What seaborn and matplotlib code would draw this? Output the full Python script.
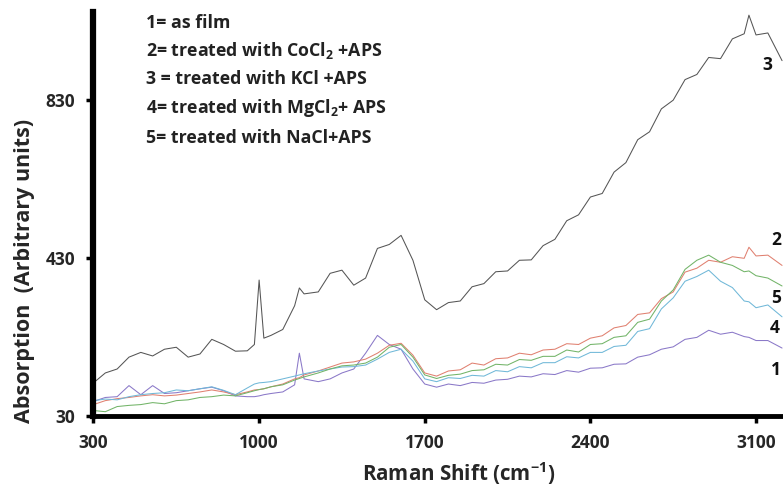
import matplotlib
matplotlib.use("Agg")
import matplotlib.pyplot as plt
import seaborn as sns
import pandas as pd

# Raman shift grid (cm^-1)
shift = [300, 350, 400, 450, 500, 550, 600, 650, 700, 750,
         800, 850, 900, 950, 980, 1000, 1020, 1050, 1100, 1150,
         1170, 1190, 1250, 1300, 1350, 1400, 1450, 1500, 1550, 1600,
         1650, 1700, 1750, 1800, 1850, 1900, 1950, 2000, 2050, 2100,
         2150, 2200, 2250, 2300, 2350, 2400, 2450, 2500, 2550, 2600,
         2650, 2700, 2750, 2800, 2850, 2900, 2950, 3000, 3050, 3070,
         3100, 3150, 3210]

s1_as_film = [68, 78, 80, 108, 85, 108, 88, 90, 95, 100,
              104, 95, 82, 80, 80, 82, 85, 88, 92, 110,
              190, 125, 118, 125, 140, 150, 190, 235, 212, 200,
              150, 112, 104, 112, 108, 116, 114, 122, 124, 132,
              130, 138, 136, 146, 142, 152, 153, 162, 163, 180,
              186, 200, 206, 225, 230, 248, 238, 243, 232, 230,
              222, 222, 203]

s2_cocl2 = [60, 70, 75, 78, 82, 85, 82, 84, 88, 92,
            97, 92, 85, 92, 97, 98, 100, 105, 112, 125,
            128, 135, 145, 155, 165, 168, 175, 190, 210, 215,
            185, 140, 132, 145, 148, 165, 160, 176, 178, 190,
            186, 198, 200, 214, 212, 228, 234, 254, 260, 288,
            292, 328, 345, 395, 405, 425, 420, 434, 430, 458,
            436, 438, 412]

s3_kcl = [115, 140, 150, 180, 192, 183, 200, 205, 180, 188,
          225, 212, 195, 196, 212, 375, 228, 235, 250, 310,
          355, 340, 345, 392, 400, 362, 380, 455, 465, 488,
          425, 325, 300, 318, 322, 358, 366, 396, 398, 425,
          426, 462, 478, 525, 540, 585, 594, 648, 672, 730,
          750, 808, 830, 882, 895, 938, 935, 985, 998, 1045,
          995, 1000, 930]

s4_mgcl2 = [70, 74, 72, 80, 85, 88, 90, 97, 95, 100,
            105, 96, 85, 102, 112, 115, 116, 118, 125, 132,
            135, 138, 145, 150, 155, 156, 160, 175, 192, 200,
            170, 125, 118, 128, 126, 134, 132, 146, 143, 156,
            153, 166, 166, 181, 178, 192, 192, 207, 210, 245,
            252, 302, 330, 372, 384, 400, 372, 356, 322, 320,
            305, 312, 282]

s5_nacl = [45, 42, 55, 58, 60, 65, 62, 70, 72, 78,
           80, 84, 82, 90, 95, 98, 100, 105, 110, 122,
           126, 130, 140, 150, 158, 160, 165, 180, 205, 212,
           180, 135, 126, 134, 137, 146, 148, 162, 160, 174,
           172, 182, 182, 198, 193, 212, 214, 230, 234, 268,
           276, 322, 350, 402, 425, 438, 420, 412, 396, 398,
           386, 380, 360]

legend_lines = ["1= as film",
                "2= treated with CoCl$_\\mathbf{2}$ +APS",
                "3 = treated with KCl +APS",
                "4= treated with MgCl$_\\mathbf{2}$+ APS",
                "5= treated with NaCl+APS"]

x_ticks = [300, 1000, 1700, 2400, 3100]
y_ticks = [30, 430, 830]

series = [("1", s1_as_film, "#8a78c8"),
          ("2", s2_cocl2, "#e08070"),
          ("3", s3_kcl, "#555555"),
          ("4", s4_mgcl2, "#70b8d8"),
          ("5", s5_nacl, "#72b468")]

sns.set_theme(style="white")
plt.rcParams['font.family'] = ['Open Sans', 'DejaVu Sans']
plt.rcParams['mathtext.fontset'] = 'custom'
plt.rcParams['mathtext.bf'] = 'Open Sans:bold'
plt.rcParams['mathtext.rm'] = 'Open Sans:bold'

fig = plt.figure(figsize=(7.83, 4.94), dpi=100)
ax = fig.add_axes([0.1194, 0.157, 0.8806, 0.8187])

for name, vals, col in series:
    df = pd.DataFrame({"shift": shift, "val": vals})
    sns.lineplot(data=df, x="shift", y="val", ax=ax, color=col,
                 linewidth=0.75, estimator=None, sort=False)

label_pos = {"3": (3125, 918), "2": (3163, 476), "5": (3163, 330),
             "4": (3158, 254), "1": (3163, 148)}
for name, (lx, ly) in label_pos.items():
    ax.text(lx, ly, name, fontsize=12.5, fontweight='bold', color='#111111',
            ha='left', va='center')

ty = [1025, 955, 883, 810, 735]
for t, yy in zip(legend_lines, ty):
    ax.text(520, yy, t, fontsize=12.8, fontweight='bold', color='#222222',
            ha='left', va='center')

ax.set_xlim(300, 3214)
ax.set_ylim(30, 1053)
ax.set_xticks(x_ticks)
ax.set_yticks(y_ticks)
ax.set_xticklabels([str(v) for v in x_ticks], fontsize=12.5, fontweight='bold')
ax.set_yticklabels([str(v) for v in y_ticks], fontsize=12.5, fontweight='bold')
ax.set_xlabel("Raman Shift (cm$^{\\mathbf{-1}}$)", fontsize=14.8, fontweight='bold')
ax.set_ylabel("Absorption  (Arbitrary units)", fontsize=15.5, fontweight='bold')
ax.xaxis.set_label_coords(0.529, -0.108)
ax.yaxis.set_label_coords(-0.085, 0.36)

for side in ['top', 'right']:
    ax.spines[side].set_visible(False)
ax.spines['left'].set_linewidth(4.5)
ax.spines['bottom'].set_linewidth(3.5)
ax.spines['left'].set_color('black')
ax.spines['bottom'].set_color('black')
ax.tick_params(axis='both', which='major', direction='out', length=5, width=2.5,
               color='black', bottom=True, left=True, pad=8)

fig.savefig("out.png", dpi=100, facecolor='white')
